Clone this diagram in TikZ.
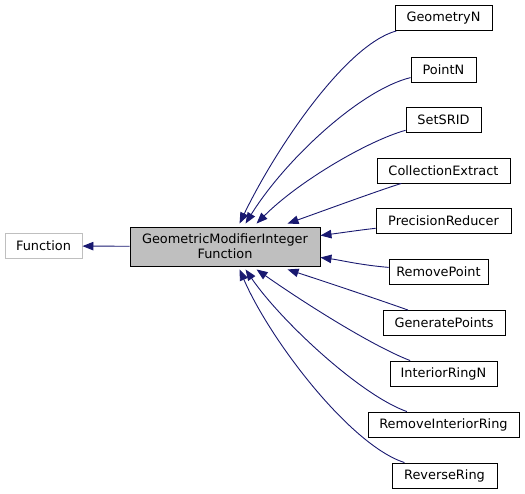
\documentclass[tikz,border=0pt]{standalone}
\usepackage{fontspec}
\setmainfont{DejaVu Sans}
\usetikzlibrary{arrows.meta,calc}
\definecolor{edgeblue}{HTML}{191970}
\definecolor{boxgray}{HTML}{BFBFBF}

\begin{document}
\begin{tikzpicture}[x=1pt,y=-1pt,font=\fontsize{12.9}{14.8}\selectfont,
  cls/.style={draw,line width=0.9pt,minimum height=25pt,inner sep=0pt,minimum width=#1},
  extcls/.style={cls=#1,draw=boxgray},
  mainbox/.style={draw,line width=0.9pt,fill=boxgray,minimum height=39pt,minimum width=190pt,inner sep=0pt,align=center},
  edge/.style={draw=edgeblue,line width=0.9pt,-{Triangle[length=11pt,width=8.5pt,fill=edgeblue]}}]
\useasboundingbox (0,0) rectangle (525,493);
\node[mainbox] (main) at (225,246.5) {GeometricModifierInteger\\Function};
\node[extcls=77pt] (func) at (43.5,246) {Function};
\node[cls=97pt] (geomN) at (443.5,18) {GeometryN};
\node[cls=65pt] (pointN) at (443.5,69.5) {PointN};
\node[cls=75pt] (setSRID) at (443.5,120) {SetSRID};
\node[cls=133pt] (collExtract) at (443.5,170.5) {CollectionExtract};
\node[cls=135pt] (precReducer) at (443.5,221) {PrecisionReducer};
\node[cls=99pt] (removePoint) at (438.5,271.5) {RemovePoint};
\node[cls=122pt] (genPoints) at (444,323) {GeneratePoints};
\node[cls=107pt] (intRingN) at (443.5,373.5) {InteriorRingN};
\node[cls=151pt] (removeIntRing) at (443.5,424.5) {RemoveInteriorRing};
\node[cls=105pt] (reverseRing) at (444.5,475.5) {ReverseRing};
\draw[edge] (main) -- (func);
\draw[edge] (geomN) .. controls (345,45) and (275,150) .. ([xshift=110pt,yshift=3pt]main.north west);
\draw[edge] (pointN) .. controls (360,90) and (285,160) .. ([xshift=116pt,yshift=3pt]main.north west);
\draw[edge] (setSRID) .. controls (370,140) and (300,180) .. ([xshift=127pt,yshift=3pt]main.north west);
\draw[edge] (collExtract) .. controls (380,190) and (320,212) .. ([xshift=158pt,yshift=3pt]main.north west);
\draw[edge] (precReducer) .. controls (360,230) and (340,233) .. ([yshift=11pt]main.east);
\draw[edge] (removePoint) .. controls (360,265) and (340,260) .. ([yshift=-11pt]main.east);
\draw[edge] (genPoints) .. controls (380,300) and (320,280) .. ([xshift=158pt,yshift=-3pt]main.south west);
\draw[edge] (intRingN) .. controls (370,345) and (300,300) .. ([xshift=127pt,yshift=-3pt]main.south west);
\draw[edge] (removeIntRing) .. controls (360,395) and (280,320) .. ([xshift=116pt,yshift=-3pt]main.south west);
\draw[edge] (reverseRing) .. controls (350,445) and (270,340) .. ([xshift=110pt,yshift=-3pt]main.south west);
\end{tikzpicture}
\end{document}
